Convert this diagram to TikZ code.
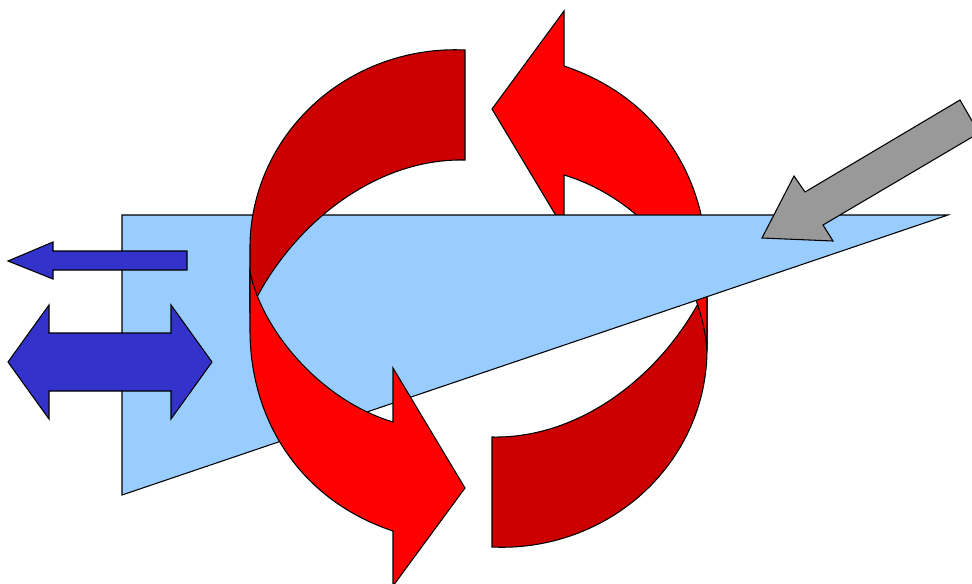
\documentclass[tikz,border=0pt]{standalone}
\usepackage{tikz}
\definecolor{ribbondark}{HTML}{CC0000}
\definecolor{ribbonlight}{HTML}{FF0000}
\definecolor{planeblue}{HTML}{99CCFF}
\definecolor{arrowblue}{HTML}{3333CC}
\definecolor{arrowgrey}{HTML}{999999}

\begin{document}
\begin{tikzpicture}[
  x=0.75pt, y=0.75pt, yscale=-1,
  outline/.style={draw=black, line width=0.8pt},
  ribbonback/.style={outline, fill=ribbondark},
  ribbonfront/.style={outline, fill=ribbonlight},
  sheet/.style={outline, fill=planeblue},
  bluearrow/.style={outline, fill=arrowblue},
  greyarrow/.style={outline, fill=arrowgrey}
]
  \clip (0,0) rectangle (972,583);
  % right half of the loop, behind the plane
  \draw[ribbonback] (492,547) arc[start angle=92.8, end angle=0, x radius=205, y radius=198]
    -- (707,286) .. controls (667,372) and (582,439) .. (492,437) -- cycle;
  \draw[ribbonfront] (707,350) -- (707,267) .. controls (707,177) and (657,97) .. (564,66)
    -- (564,11) -- (492,109) -- (564,229) -- (564,175)
    .. controls (637,197) and (700,265) .. (707,350) -- cycle;
  % plane
  \draw[sheet] (122,215) -- (948,215) -- (122,495) -- cycle;
  % straight arrows
  \draw[greyarrow] (979,133) -- (823,225) -- (833,241) -- (762,238) -- (794,176)
    -- (805,192) -- (960,100) -- cycle;
  \draw[bluearrow] (187,251) -- (53,251) -- (53,242) -- (8,261) -- (53,279)
    -- (53,270) -- (187,270) -- cycle;
  \draw[bluearrow] (8,362) -- (49,305) -- (49,333) -- (171,333) -- (171,305)
    -- (212,362) -- (171,419) -- (171,391) -- (49,391) -- (49,419) -- cycle;
  % left half of the loop, in front of the plane
  \draw[ribbonback] (465,50) arc[start angle=272.8, end angle=180, x radius=205, y radius=198]
    -- (250,311) .. controls (290,225) and (375,158) .. (465,160) -- cycle;
  \draw[ribbonfront] (250,272) -- (250,330) .. controls (250,420) and (300,500) .. (393,531)
    -- (393,586) -- (465,488) -- (393,368) -- (393,422)
    .. controls (320,400) and (262,330) .. (250,272) -- cycle;
\end{tikzpicture}
\end{document}
